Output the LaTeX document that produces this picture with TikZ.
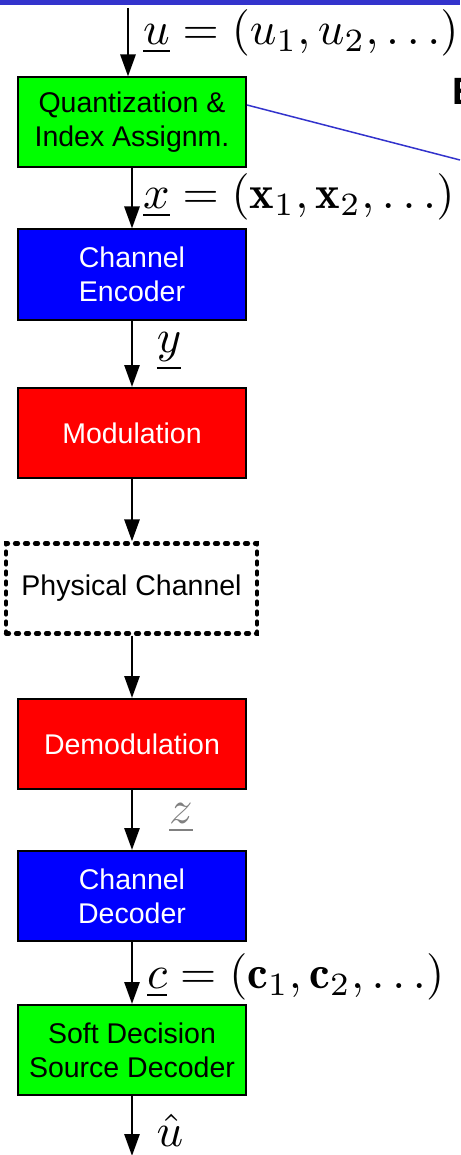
\documentclass[tikz,border=0pt]{standalone}
\usepackage{graphicx}
\usepackage{fontspec}
\setsansfont{Liberation Sans}
\usetikzlibrary{arrows.meta}
\definecolor{barblue}{RGB}{51,51,204}
\definecolor{boxgreen}{RGB}{0,255,0}
\definecolor{boxblue}{RGB}{0,0,255}
\definecolor{boxred}{RGB}{255,0,0}
\newcommand{\sigmath}[1]{\scalebox{4.65}{$#1$}}
\begin{document}
\begin{tikzpicture}[x=1pt,y=-1pt,
  blk/.style={draw=black, line width=2pt, minimum width=228pt, minimum height=90pt,
    align=center, inner sep=0pt, font=\sffamily\fontsize{28.5}{34}\selectfont},
  greenblk/.style={blk, fill=boxgreen, text=black},
  blueblk/.style={blk, fill=boxblue, text=white},
  redblk/.style={blk, fill=boxred, text=white},
  chanblk/.style={blk, draw=black, dash pattern=on 3pt off 7pt, line width=4.2pt,
    line cap=round, minimum width=251pt, text=black},
  arr/.style={line width=2.8pt, -{Triangle[length=22pt,width=15pt]}},
  mlabel/.style={inner sep=0pt}]
\useasboundingbox (0,0) rectangle (460,1155);

% title bar
\fill[barblue] (0,0) rectangle (460,5);

% processing chain
\node[greenblk] (quant) at (132,122.5) {Quantization \&\\Index Assignm.};
\node[blueblk]  (enc)   at (132,274.5) {Channel\\Encoder};
\node[redblk]   (mod)   at (132,433)   {Modulation};
\node[chanblk]  (chan)  at (131.5,588.5) {Physical Channel};
\node[redblk]   (demod) at (132,744)   {Demodulation};
\node[blueblk]  (dec)   at (132,896)   {Channel\\Decoder};
\node[greenblk] (sdsd)  at (132,1050)  {Soft Decision\\Source Decoder};

% input and output ends
\coordinate (src) at (128,8);
\coordinate (sink) at (132,1156);

% connectors
\draw[arr] (src) -- (src |- quant.north);
\draw[arr] (quant.south) -- (enc.north);
\draw[arr] (enc.south) -- (mod.north);
\draw[arr] (mod.south) -- (chan.north -| mod.south);
\draw[arr] (chan.south -| demod.north) -- (demod.north);
\draw[arr] (demod.south) -- (dec.north);
\draw[arr] (dec.south) -- (sdsd.north);
\draw[arr] (sdsd.south) -- (sink);

% signal labels
\node[mlabel, anchor=west] (lu) at (143,33) {\sigmath{\underline{u} = (u_1, u_2, \ldots)}};
\node[mlabel, anchor=west] (lx) at (143,197) {\sigmath{\underline{x} = (\mathbf{x}_1, \mathbf{x}_2, \ldots)}};
\node[mlabel] (ly) at (169,352) {\sigmath{\underline{y}}};
\node[mlabel, text=black!50] (lz) at (181,818) {\sigmath{\underline{z}}};
\node[mlabel, anchor=west] (lc) at (147,977) {\sigmath{\underline{c} = (\mathbf{c}_1, \mathbf{c}_2, \ldots)}};
\node[mlabel] (luh) at (170,1130) {\sigmath{\hat{u}}};

% pointer to the side heading
\node[anchor=base west, inner sep=0pt, font=\sffamily\bfseries\fontsize{38}{44}\selectfont] (head) at (452,105) {E};
\coordinate (ptr) at (460,160);
\draw[barblue, line width=1.5pt] (quant.east |- 0,105) -- (ptr);
\end{tikzpicture}
\end{document}
